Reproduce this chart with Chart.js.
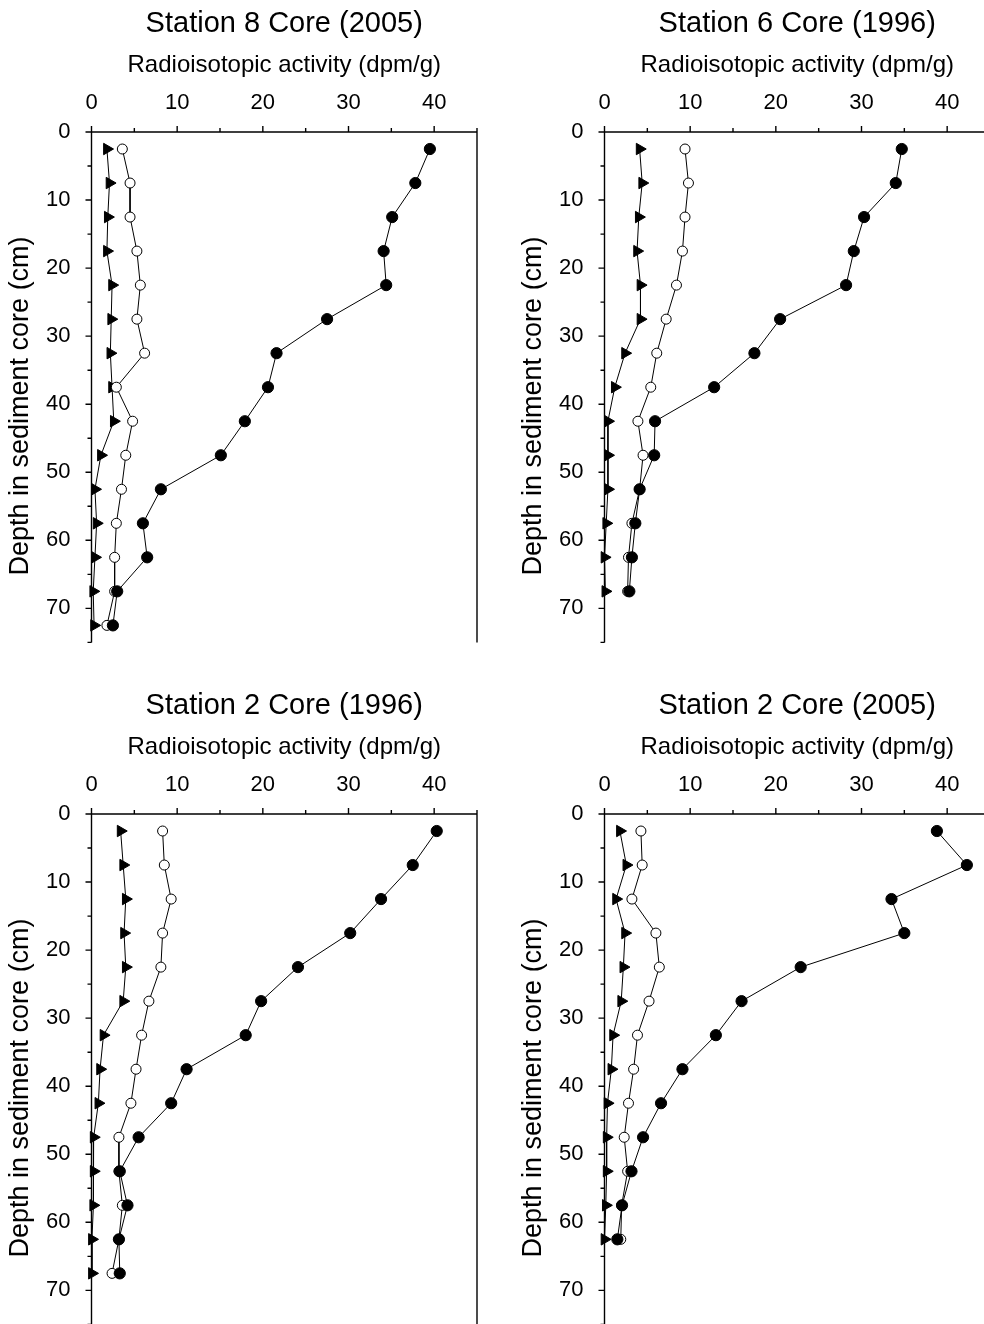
<!DOCTYPE html>
<html lang="en">
<head>
<meta charset="UTF-8">
<title>Radioisotopic activity in sediment cores</title>
<script src="https://cdn.jsdelivr.net/npm/chart.js"></script>
<style>
  html, body { margin: 0; padding: 0; background: #fff; overflow: hidden; }
  body { width: 984px; height: 1324px; position: relative; }
  .panel { position: absolute; width: 485px; height: 650px; }
</style>
</head>
<body>
<div class="panel" style="left:0;top:0"><canvas id="c1" width="485" height="650"></canvas></div>
<div class="panel" style="left:513px;top:0"><canvas id="c2" width="485" height="650"></canvas></div>
<div class="panel" style="left:0;top:682px"><canvas id="c3" width="485" height="650"></canvas></div>
<div class="panel" style="left:513px;top:682px"><canvas id="c4" width="485" height="650"></canvas></div>

<script>
// depth of each slice (cm)
const depths = [2.5, 7.5, 12.5, 17.5, 22.5, 27.5, 32.5, 37.5, 42.5, 47.5, 52.5, 57.5, 62.5, 67.5, 72.5];
const xTicks = [0, 10, 20, 30, 40];
const yTicks = [0, 10, 20, 30, 40, 50, 60, 70];

// Station 8 Core (2005)
const st8_2005_filled = [39.5, 37.8, 35.1, 34.1, 34.4, 27.5, 21.6, 20.6, 17.9, 15.1, 8.1, 6.0, 6.5, 3.0, 2.5];
const st8_2005_open   = [3.6, 4.5, 4.5, 5.3, 5.7, 5.3, 6.2, 2.9, 4.8, 4.0, 3.5, 2.9, 2.7, 2.7, 1.8];
const st8_2005_tri    = [1.8, 2.1, 1.9, 1.8, 2.4, 2.3, 2.2, 2.4, 2.6, 1.1, 0.4, 0.6, 0.4, 0.2, 0.3];

// Station 6 Core (1996)
const st6_1996_filled = [34.7, 34.0, 30.3, 29.1, 28.2, 20.5, 17.5, 12.8, 5.9, 5.8, 4.1, 3.6, 3.2, 2.9];
const st6_1996_open   = [9.4, 9.8, 9.4, 9.1, 8.4, 7.2, 6.1, 5.4, 3.9, 4.5, 4.1, 3.2, 2.8, 2.7];
const st6_1996_tri    = [4.1, 4.4, 4.0, 3.8, 4.2, 4.2, 2.4, 1.2, 0.4, 0.4, 0.4, 0.2, 0.0, 0.1];

// Station 2 Core (1996)
const st2_1996_filled = [40.3, 37.5, 33.8, 30.2, 24.1, 19.8, 18.0, 11.1, 9.3, 5.5, 3.3, 4.2, 3.2, 3.3];
const st2_1996_open   = [8.3, 8.5, 9.3, 8.3, 8.1, 6.7, 5.85, 5.2, 4.6, 3.2, 3.2, 3.6, 3.2, 2.4];
const st2_1996_tri    = [3.4, 3.7, 4.0, 3.8, 4.0, 3.7, 1.4, 1.0, 0.8, 0.25, 0.25, 0.2, 0.05, 0.05];

// Station 2 Core (2005)
const st2_2005_filled = [38.8, 42.3, 33.5, 35.0, 22.9, 16.0, 13.0, 9.1, 6.6, 4.5, 3.15, 2.05, 1.5];
const st2_2005_open   = [4.25, 4.4, 3.2, 6.0, 6.4, 5.2, 3.85, 3.4, 2.8, 2.3, 2.7, 2.0, 1.9];
const st2_2005_tri    = [1.8, 2.55, 1.35, 2.4, 2.2, 1.95, 1.0, 0.8, 0.35, 0.25, 0.25, 0.15, 0.0];

Chart.defaults.font.family = '"Liberation Sans", Arial, Helvetica, sans-serif';
Chart.defaults.color = '#000';

// box on left/top/right plus outward ticks every 5 units
const frame = {
  id: 'frame',
  beforeDatasetsDraw(chart) {
    const { ctx, chartArea: a, scales: { x, y } } = chart;
    ctx.save();
    ctx.strokeStyle = '#000';
    ctx.lineWidth = 1.4;
    ctx.beginPath();
    ctx.moveTo(a.left, a.bottom);
    ctx.lineTo(a.left, a.top);
    ctx.lineTo(a.right, a.top);
    ctx.lineTo(a.right, a.bottom);
    for (let v = x.min; v <= x.max; v += 5) {
      const px = x.getPixelForValue(v);
      ctx.moveTo(px, a.top);
      ctx.lineTo(px, a.top - (v % 10 === 0 ? 6 : 4));
    }
    for (let v = y.min; v <= y.max; v += 5) {
      const py = y.getPixelForValue(v);
      ctx.moveTo(a.left, py);
      ctx.lineTo(a.left - (v % 10 === 0 ? 6 : 4), py);
    }
    ctx.stroke();
    ctx.restore();
  }
};

function pts(vals) {
  return vals.map((v, i) => ({ x: v, y: depths[i] }));
}

function makePanel(id, title, filled, open, tri) {
  new Chart(document.getElementById(id), {
    type: 'line',
    data: {
      datasets: [
        {
          data: pts(filled),
          borderColor: '#000', borderWidth: 1,
          pointStyle: 'circle', pointRadius: 5.6,
          pointBackgroundColor: '#000', pointBorderColor: '#000', pointBorderWidth: 1,
          clip: false
        },
        {
          data: pts(open),
          borderColor: '#000', borderWidth: 1,
          pointStyle: 'circle', pointRadius: 5,
          pointBackgroundColor: '#fff', pointBorderColor: '#000', pointBorderWidth: 1,
          clip: false
        },
        {
          data: pts(tri),
          borderColor: '#000', borderWidth: 1,
          pointStyle: 'triangle', pointRotation: 90, pointRadius: 6.6,
          pointBackgroundColor: '#000', pointBorderColor: '#000', pointBorderWidth: 1,
          clip: false
        }
      ]
    },
    options: {
      responsive: false,
      animation: false,
      events: [],
      layout: { padding: { left: 0, right: 8, top: 0, bottom: 5 } },
      elements: { line: { tension: 0 } },
      plugins: {
        legend: { display: false },
        tooltip: { enabled: false },
        title: {
          display: true,
          fullSize: false,
          text: title,
          font: { size: 29, weight: 'normal' },
          padding: { top: 7, bottom: 6 }
        }
      },
      scales: {
        x: {
          type: 'linear',
          position: 'top',
          min: 0, max: 45,
          grid: { display: false, drawTicks: false },
          border: { display: false },
          afterBuildTicks: s => { s.ticks = xTicks.map(v => ({ value: v })); },
          afterFit: s => { s.height = 132 - 47.8; },
          ticks: { font: { size: 22 }, padding: 16, maxRotation: 0 },
          title: {
            display: true,
            text: 'Radioisotopic activity (dpm/g)',
            font: { size: 24 },
            padding: { top: 3, bottom: 0 }
          }
        },
        y: {
          type: 'linear',
          reverse: true,
          min: 0, max: 75,
          grid: { display: false, drawTicks: false },
          border: { display: false },
          afterBuildTicks: s => { s.ticks = yTicks.map(v => ({ value: v })); },
          afterFit: s => { s.width = 91.5; s.paddingTop = 0; s.paddingBottom = 0; },
          ticks: { font: { size: 22 }, padding: 21 },
          title: {
            display: true,
            // trailing spaces push the centred label a little toward the bottom, as in the original
            text: 'Depth in sediment core (cm)     ',
            font: { size: 27 },
            padding: { top: 4, bottom: 0 }
          }
        }
      }
    },
    plugins: [frame]
  });
}

makePanel('c1', 'Station 8 Core (2005)', st8_2005_filled, st8_2005_open, st8_2005_tri);
makePanel('c2', 'Station 6 Core (1996)', st6_1996_filled, st6_1996_open, st6_1996_tri);
makePanel('c3', 'Station 2 Core (1996)', st2_1996_filled, st2_1996_open, st2_1996_tri);
makePanel('c4', 'Station 2 Core (2005)', st2_2005_filled, st2_2005_open, st2_2005_tri);
</script>
</body>
</html>
